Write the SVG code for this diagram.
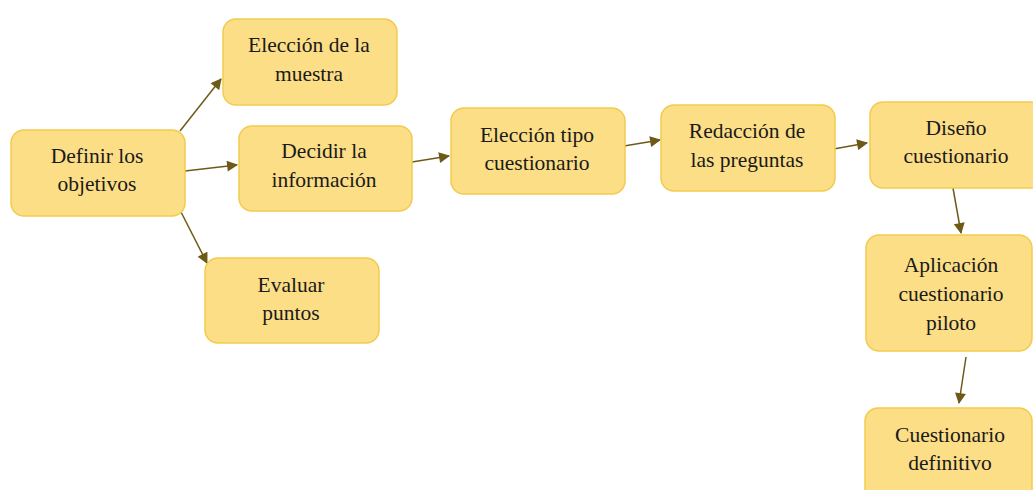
<svg xmlns="http://www.w3.org/2000/svg" width="1033" height="490" viewBox="0 0 1033 490">
<style>
.box{fill:#FCDE86;stroke:#F2CB4E;stroke-width:1.5}
.t{font-family:'Times New Roman','Liberation Serif','DejaVu Serif',Georgia,serif;font-size:21.5px;fill:#1a1a1a;text-anchor:middle}
.c{stroke:#6E5A18;stroke-width:1.5;fill:none;marker-end:url(#ah)}
</style>
<defs>
<marker id="ah" viewBox="0 0 10 10" refX="9" refY="5" markerWidth="12" markerHeight="11" markerUnits="userSpaceOnUse" orient="auto">
<path d="M0,0 L10,5 L0,10 z" fill="#6E5A18"/>
</marker>
</defs>
<rect width="1033" height="490" fill="#ffffff"/>
<g id="connectors">
<line class="c" x1="180" y1="131" x2="221" y2="79"/>
<line class="c" x1="185" y1="171" x2="237" y2="165"/>
<line class="c" x1="181" y1="212" x2="207" y2="263"/>
<line class="c" x1="412" y1="162" x2="449" y2="156"/>
<line class="c" x1="624" y1="146" x2="660" y2="140"/>
<line class="c" x1="828" y1="150" x2="867" y2="143"/>
<line class="c" x1="953" y1="188" x2="961" y2="233"/>
<line class="c" x1="966" y1="357" x2="959" y2="403"/>
</g>
<g id="n-definir">
<rect class="box" x="11" y="130" width="174" height="86" rx="13"/>
<text class="t" x="97" y="163">Definir los</text>
<text class="t" x="97" y="191">objetivos</text>
</g>
<g id="n-muestra">
<rect class="box" x="223" y="19" width="174" height="86" rx="13"/>
<text class="t" x="309" y="52">Elección de la</text>
<text class="t" x="309" y="81">muestra</text>
</g>
<g id="n-decidir">
<rect class="box" x="239" y="126" width="173" height="85" rx="13"/>
<text class="t" x="324" y="158">Decidir la</text>
<text class="t" x="324" y="187">información</text>
</g>
<g id="n-evaluar">
<rect class="box" x="205" y="258" width="174" height="85" rx="13"/>
<text class="t" x="291" y="292">Evaluar</text>
<text class="t" x="291" y="320">puntos</text>
</g>
<g id="n-tipo">
<rect class="box" x="451" y="108" width="174" height="86" rx="13"/>
<text class="t" x="537" y="142">Elección tipo</text>
<text class="t" x="537" y="170">cuestionario</text>
</g>
<g id="n-redaccion">
<rect class="box" x="661" y="105" width="174" height="86" rx="13"/>
<text class="t" x="747" y="138">Redacción de</text>
<text class="t" x="747" y="167">las preguntas</text>
</g>
<g id="n-diseno">
<rect class="box" x="870" y="102" width="174" height="86" rx="13"/>
<text class="t" x="956" y="135">Diseño</text>
<text class="t" x="956" y="163">cuestionario</text>
</g>
<g id="n-aplicacion">
<rect class="box" x="866" y="235" width="166" height="116" rx="13"/>
<text class="t" x="951" y="272">Aplicación</text>
<text class="t" x="951" y="301">cuestionario</text>
<text class="t" x="951" y="330">piloto</text>
</g>
<g id="n-definitivo">
<rect class="box" x="865" y="408" width="167" height="100" rx="13"/>
<text class="t" x="950" y="442">Cuestionario</text>
<text class="t" x="950" y="470">definitivo</text>
</g>
</svg>
